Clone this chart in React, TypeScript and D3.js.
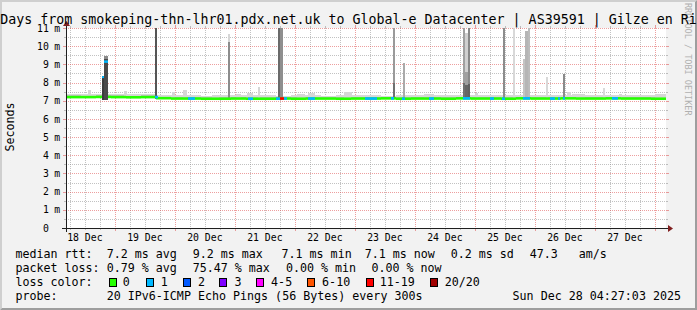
import React from 'react';
import * as d3 from 'd3';

const WIDTH = 697;
const HEIGHT = 310;

const END_TIME = '2025-12-28T04:27:03';
const RANGE_DAYS = 10;
const BUCKET_HOURS = 6;

const titleText = '10 Days from smokeping-thn-lhr01.pdx.net.uk to Global-e Datacenter | AS39591 | Gilze en Rijen';
const yAxisTitle = 'Seconds';
const sideText = 'RRDTOOL / TOBI OETIKER';

const yTickValues = [0, 1, 2, 3, 4, 5, 6, 7, 8, 9, 10, 11];
const yTickUnits = ['', 'm', 'm', 'm', 'm', 'm', 'm', 'm', 'm', 'm', 'm', 'm'];
const dayLabelDates = ['2025-12-18T12:00', '2025-12-19T12:00', '2025-12-20T12:00', '2025-12-21T12:00', '2025-12-22T12:00', '2025-12-23T12:00', '2025-12-24T12:00', '2025-12-25T12:00', '2025-12-26T12:00', '2025-12-27T12:00'];
const dayLabels = ['18 Dec', '19 Dec', '20 Dec', '21 Dec', '22 Dec', '23 Dec', '24 Dec', '25 Dec', '26 Dec', '27 Dec'];

// median rtt (ms) per 6-hour bucket from the graph start
const medianMs = [7.2, 7.2, 7.21, 7.2, 7.19, 7.2, 7.14, 7.12, 7.12, 7.11,
  7.11, 7.12, 7.11, 7.11, 7.12, 7.11, 7.12, 7.12, 7.11, 7.12,
  7.12, 7.13, 7.11, 7.12, 7.12, 7.11, 7.13, 7.12, 7.12, 7.11,
  7.13, 7.12, 7.12, 7.13, 7.12, 7.12, 7.13, 7.12, 7.12, 7.11];
// outer smoke top (ms) per bucket
const smokeOuterMs = [7.37, 7.35, 7.37, 7.38, 7.36, 7.37, 7.32, 7.31, 7.29, 7.28,
  7.29, 7.31, 7.32, 7.31, 7.28, 7.29, 7.29, 7.28, 7.3, 7.31,
  7.29, 7.28, 7.3, 7.31, 7.29, 7.3, 7.31, 7.32, 7.3, 7.29,
  7.31, 7.3, 7.31, 7.32, 7.3, 7.31, 7.3, 7.29, 7.3, 7.29];
// inner smoke top (ms) per bucket
const smokeInnerMs = [7.29, 7.28, 7.29, 7.3, 7.28, 7.29, 7.23, 7.21, 7.21, 7.2,
  7.21, 7.22, 7.21, 7.21, 7.2, 7.21, 7.21, 7.2, 7.21, 7.22,
  7.21, 7.21, 7.21, 7.22, 7.21, 7.21, 7.22, 7.22, 7.21, 7.21,
  7.22, 7.21, 7.22, 7.22, 7.21, 7.22, 7.21, 7.21, 7.21, 7.2];

// narrow light smoke bumps: [time, hours, top ms]
const smokeBumps: [string, number, number][] = [
  ['2025-12-18T13:15', 1.1, 7.59],
  ['2025-12-19T03:39', 1.1, 7.54],
  ['2025-12-19T22:51', 1.2, 7.5],
  ['2025-12-20T03:15', 1.5, 7.59],
  ['2025-12-20T15:00', 2.5, 7.34],
  ['2025-12-21T00:30', 2.0, 7.37],
  ['2025-12-21T04:51', 2.4, 7.43],
  ['2025-12-21T09:08', 0.9, 7.74],
  ['2025-12-22T01:00', 3.0, 7.37],
  ['2025-12-22T05:15', 2.8, 7.4],
  ['2025-12-22T19:40', 3.2, 7.48],
  ['2025-12-24T03:39', 4.0, 7.38],
  ['2025-12-25T00:00', 1.3, 7.45],
  ['2025-12-26T12:51', 1.8, 7.5],
  ['2025-12-26T15:00', 5.0, 7.35],
  ['2025-12-27T09:32', 1.3, 7.38],
  ['2025-12-28T00:00', 5.0, 7.35],
];

// smoke spikes (median stays at base): [time, hours, top ms, shade]
const spikes: [string, number, number, string][] = [
  ['2025-12-19T16:00', 1.0, 11.5, '#555555'],
  ['2025-12-20T21:15', 0.8, 10.65, '#d6d6d6'],
  ['2025-12-20T21:15', 0.8, 10.25, '#8c8c8c'],
  ['2025-12-21T17:15', 0.8, 11.5, '#6a6a6a'],
  ['2025-12-21T18:03', 1.4, 11.5, '#8f8f8f'],
  ['2025-12-23T15:05', 0.9, 11.5, '#9a9a9a'],
  ['2025-12-23T15:05', 0.9, 7.96, '#707070'],
  ['2025-12-23T19:05', 1.0, 9.06, '#aaaaaa'],
  ['2025-12-24T19:15', 0.8, 11.5, '#a0a0a0'],
  ['2025-12-24T19:15', 0.8, 8.0, '#707070'],
  ['2025-12-24T20:03', 1.1, 10.7, '#d0d0d0'],
  ['2025-12-24T20:03', 1.1, 8.6, '#a0a0a0'],
  ['2025-12-24T20:03', 1.1, 7.87, '#666666'],
  ['2025-12-24T21:08', 0.9, 11.5, '#888888'],
  ['2025-12-24T21:08', 0.9, 7.9, '#606060'],
  ['2025-12-25T11:05', 0.9, 11.5, '#8c8c8c'],
  ['2025-12-25T15:05', 0.9, 11.5, '#d8d8d8'],
  ['2025-12-25T19:05', 1.0, 9.3, '#c4c4c4'],
  ['2025-12-25T20:10', 1.1, 10.84, '#b5b5b5'],
  ['2025-12-25T21:15', 0.8, 11.5, '#bbbbbb'],
  ['2025-12-26T04:27', 0.8, 8.32, '#d8d8d8'],
  ['2025-12-26T11:05', 0.8, 8.47, '#8a8a8a'],
  ['2025-12-27T03:05', 0.8, 7.72, '#dadada'],
];

// samples whose median rose: [time, hours, top ms, shade, median ms, loss index]
const elevatedSamples: [string, number, number, string, number, number][] = [
  ['2025-12-18T18:44', 0.8, 8.38, '#3c3c3c', 8.3, 1],
  ['2025-12-18T19:39', 1.5, 9.45, '#8a8a8a', 9.15, 1],
  ['2025-12-18T19:39', 1.5, 9.32, '#4a4a4a', 9.15, 1],
];

// periods with packet loss: [from, to, loss index]
const lossSpans: [string, string, number][] = [
  ['2025-12-19T16:03', '2025-12-19T17:08', 1],
  ['2025-12-20T05:15', '2025-12-20T08:03', 1],
  ['2025-12-21T05:15', '2025-12-21T07:15', 1],
  ['2025-12-21T16:27', '2025-12-21T18:03', 1],
  ['2025-12-21T18:03', '2025-12-21T19:39', 6],
  ['2025-12-21T19:39', '2025-12-21T20:51', 1],
  ['2025-12-22T05:15', '2025-12-22T08:03', 1],
  ['2025-12-23T04:03', '2025-12-23T08:51', 1],
  ['2025-12-23T14:27', '2025-12-23T15:39', 1],
  ['2025-12-23T18:51', '2025-12-23T20:03', 1],
  ['2025-12-24T05:32', '2025-12-24T07:32', 1],
  ['2025-12-24T19:15', '2025-12-24T22:03', 1],
  ['2025-12-25T06:03', '2025-12-25T07:32', 1],
  ['2025-12-25T10:51', '2025-12-25T12:03', 1],
  ['2025-12-25T19:15', '2025-12-25T22:03', 1],
  ['2025-12-26T06:03', '2025-12-26T08:03', 1],
  ['2025-12-26T09:08', '2025-12-26T10:10', 1],
  ['2025-12-26T11:08', '2025-12-26T12:03', 1],
  ['2025-12-27T06:51', '2025-12-27T09:15', 1],
];

const lossLegend = ['0', '1', '2', '3', '4-5', '6-10', '11-19', '20/20'];
const lossColors = ['#26ff00', '#00b8ff', '#0059ff', '#7e00ff', '#ff00ff', '#ff5500', '#ff0000', '#a00000'];

const rttStats = ['median rtt:', '7.2 ms avg', '9.2 ms max', '7.1 ms min', '7.1 ms now', '0.2 ms sd', '47.3   am/s'];
const lossStats = ['packet loss:', '0.79 % avg', '75.47 % max', '0.00 % min', '0.00 % now'];
const lossColorLabel = 'loss color:';
const probeStats = ['probe:', '20 IPv6-ICMP Echo Pings (56 Bytes) every 300s'];
const stampText = 'Sun Dec 28 04:27:03 2025';

// ---------- layout ----------
const X0 = 66;
const X1 = 666;
const Y0 = 228;
const Y1 = 28;
const MEDIAN_BAND = 2.6;
const MONO = '"DejaVu Sans Mono", "Liberation Mono", monospace';
const rttX = [15.4, 106.7, 192.7, 281.5, 364.7, 450.7, 529.7];
const lossX = [15.4, 106.7, 192.7, 285.9, 371.4];
const boxX = [108.5, 145.8, 182.5, 219.2, 255.9, 307.2, 365.9, 430.2];
const boxLabelX = [122.7, 160.7, 198.1, 234.4, 271.1, 322.1, 379.7, 444.7];
const rowY = [257.5, 271.6, 285.7, 299.8];

const HOUR = 3600 * 1000;
const endDate = new Date(END_TIME);
const startDate = new Date(endDate.getTime() - RANGE_DAYS * 24 * HOUR);

export default function App() {
  const x = d3.scaleTime().domain([startDate, endDate]).range([X0, X1]);
  const y = d3.scaleLinear().domain([0, 11]).range([Y0, Y1]);
  const px = (d: Date) => Math.round(x(d));
  const addH = (s: string, h: number) => new Date(new Date(s).getTime() + h * HOUR);
  const bucketIndex = (d: Date) =>
    Math.max(0, Math.min(medianMs.length - 1, Math.floor((d.getTime() - startDate.getTime()) / (BUCKET_HOURS * HOUR))));
  const bucketStart = (i: number) => new Date(startDate.getTime() + i * BUCKET_HOURS * HOUR);

  const minorH = d3.range(0.5, 11, 1);
  const majorH = yTickValues;
  const majorV = d3.timeDay.range(startDate, endDate).filter((d) => d > startDate);
  const minorV = d3.timeHour.every(6)!.range(startDate, endDate).filter((d) => d.getHours() !== 0);

  const minorCol = 'rgba(143,143,143,0.55)';
  const majorCol = 'rgba(222,80,80,0.55)';

  return (
    <svg width={WIDTH} height={HEIGHT} style={{ position: 'absolute', left: 0, top: 0, display: 'block' }} fontFamily={MONO}>
      <defs>
        <clipPath id="cv">
          <rect x={X0} y={Y1} width={X1 - X0} height={Y0 - Y1} />
        </clipPath>
      </defs>
      <rect x={0} y={0} width={WIDTH} height={HEIGHT} fill="#f2f2f2" />
      <polygon points={`0,${HEIGHT} 2,${HEIGHT - 2} 2,2 ${WIDTH - 2},2 ${WIDTH},0 0,0`} fill="#cfcfcf" />
      <polygon points={`2,${HEIGHT - 2} ${WIDTH - 2},${HEIGHT - 2} ${WIDTH - 2},2 ${WIDTH},0 ${WIDTH},${HEIGHT} 0,${HEIGHT}`} fill="#9e9e9e" />
      <rect x={X0} y={Y1} width={X1 - X0} height={Y0 - Y1} fill="#ffffff" />

      {/* grid */}
      <g shapeRendering="crispEdges" strokeWidth={1}>
        {minorH.map((v) => (
          <g key={'mh' + v} stroke={minorCol}>
            <line x1={X0} x2={X1} y1={Math.round(y(v)) + 0.5} y2={Math.round(y(v)) + 0.5} strokeDasharray="1 1" />
            <line x1={X0 - 2} x2={X0} y1={Math.round(y(v)) + 0.5} y2={Math.round(y(v)) + 0.5} />
            <line x1={X1} x2={X1 + 2} y1={Math.round(y(v)) + 0.5} y2={Math.round(y(v)) + 0.5} />
          </g>
        ))}
        {minorV.map((d, i) => (
          <g key={'mv' + i} stroke={minorCol}>
            <line x1={px(d) + 0.5} x2={px(d) + 0.5} y1={Y1} y2={Y0} strokeDasharray="1 1" />
            <line x1={px(d) + 0.5} x2={px(d) + 0.5} y1={Y1 - 2} y2={Y1} />
            <line x1={px(d) + 0.5} x2={px(d) + 0.5} y1={Y0} y2={Y0 + 2} />
          </g>
        ))}
        {majorH.map((v) => (
          <g key={'Mh' + v} stroke={majorCol}>
            <line x1={X0} x2={X1} y1={Math.round(y(v)) + 0.5} y2={Math.round(y(v)) + 0.5} strokeDasharray="1 1" />
            <line x1={X0 - 3} x2={X0} y1={Math.round(y(v)) + 0.5} y2={Math.round(y(v)) + 0.5} />
            <line x1={X1} x2={X1 + 3} y1={Math.round(y(v)) + 0.5} y2={Math.round(y(v)) + 0.5} />
          </g>
        ))}
        {majorV.map((d, i) => (
          <g key={'Mv' + i} stroke={majorCol}>
            <line x1={px(d) + 0.5} x2={px(d) + 0.5} y1={Y1} y2={Y0} strokeDasharray="1 1" />
            <line x1={px(d) + 0.5} x2={px(d) + 0.5} y1={Y1 - 3} y2={Y1} />
            <line x1={px(d) + 0.5} x2={px(d) + 0.5} y1={Y0} y2={Y0 + 3} />
          </g>
        ))}
      </g>

      <g clipPath="url(#cv)">
        {/* base smoke */}
        <g shapeRendering="crispEdges">
          {medianMs.map((m, i) => {
            const a = px(bucketStart(i));
            const b = px(bucketStart(i + 1));
            return (
              <g key={'sm' + i}>
                <rect x={a} width={b - a} y={y(smokeOuterMs[i])} height={y(m) - y(smokeOuterMs[i])} fill="#d8d8d8" />
                <rect x={a} width={b - a} y={y(smokeInnerMs[i])} height={y(m) - y(smokeInnerMs[i])} fill="#c2c2c2" />
              </g>
            );
          })}
          {smokeBumps.map(([t, h, top], i) => {
            const a = px(new Date(t));
            const b = px(addH(t, h));
            const m = medianMs[bucketIndex(new Date(t))];
            return <rect key={'bp' + i} x={a} width={Math.max(1, b - a)} y={y(top)} height={y(m) - y(top)} fill="#d6d6d6" />;
          })}
          {spikes.map(([t, h, top, shade], i) => {
            const a = px(new Date(t));
            const b = px(addH(t, h));
            return <rect key={'sp' + i} x={a} width={Math.max(1, b - a)} y={y(top)} height={y(7.08) - y(top)} fill={shade} />;
          })}
        </g>

        {/* median, coloured by loss */}
        {medianMs.map((m, i) => {
          const a = px(bucketStart(i));
          const b = px(bucketStart(i + 1));
          return <rect key={'md' + i} x={a} width={b - a} y={y(m) - MEDIAN_BAND / 2} height={MEDIAN_BAND} fill={lossColors[0]} />;
        })}
        {lossSpans.map(([f, t, l], i) => {
          const a = px(new Date(f));
          const b = px(new Date(t));
          const m = medianMs[bucketIndex(new Date(f))];
          return <rect key={'ls' + i} x={a} width={Math.max(1, b - a)} y={y(m) - MEDIAN_BAND / 2} height={MEDIAN_BAND} fill={lossColors[l]} />;
        })}
        {elevatedSamples.map(([t, h, top, shade], i) => {
          const a = px(new Date(t));
          const b = px(addH(t, h));
          return <rect key={'el' + i} x={a} width={Math.max(1, b - a)} y={y(top)} height={y(7.05) - y(top)} fill={shade} shapeRendering="crispEdges" />;
        })}
        {elevatedSamples.map(([t, h, , , med, l], i) => {
          const a = px(new Date(t));
          const b = px(addH(t, h));
          return <rect key={'em' + i} x={a} width={Math.max(1, b - a)} y={y(med) - 1} height={2} fill={lossColors[l]} />;
        })}
      </g>

      {/* axes */}
      <g shapeRendering="crispEdges" stroke="#1f1f1f" strokeWidth={1}>
        <line x1={X0 - 4} x2={X1 + 4} y1={Y0 + 0.5} y2={Y0 + 0.5} />
        <line x1={X0 + 0.5} x2={X0 + 0.5} y1={Y0 + 4} y2={Y1 - 4} />
      </g>
      <polygon points={`${X1 + 2},${Y0 - 3} ${X1 + 2},${Y0 + 4} ${X1 + 7},${Y0 + 0.5}`} fill="#801f1f" />
      <polygon points={`${X0 - 3},${Y1 - 2} ${X0 + 4},${Y1 - 2} ${X0 + 0.5},${Y1 - 7}`} fill="#801f1f" />

      {/* y tick labels */}
      <g fontSize={9.8} fill="#000">
        {yTickValues.map((v, i) => (
          <g key={'yl' + v}>
            <text x={48.8} y={y(v) + 3.6} textAnchor="end">{String(v)}</text>
            {yTickUnits[i] && <text x={60.2} y={y(v) + 3.6} textAnchor="end">{yTickUnits[i]}</text>}
          </g>
        ))}
        {dayLabelDates.map((d, i) => (
          <text key={'xl' + i} x={x(new Date(d))} y={241} textAnchor="middle">{dayLabels[i]}</text>
        ))}
      </g>

      {/* side texts */}
      <text transform="translate(685.3,3) rotate(90)" fontSize={8.5} fill="#b0b0b0">{sideText}</text>
      <text transform="translate(14.2,127) rotate(-90)" fontSize={11.67} textAnchor="middle" fill="#000">{yAxisTitle}</text>

      {/* title */}
      <text x={348.5} y={23.5} fontSize={13.3} textAnchor="middle" fill="#000" style={{ whiteSpace: 'pre' }}>{titleText}</text>

      {/* legend */}
      <g fontSize={11.67} fill="#000" style={{ whiteSpace: 'pre' }}>
        {rttStats.map((s, i) => (
          <text key={'r' + i} x={rttX[i]} y={rowY[0]} xmlSpace="preserve">{s}</text>
        ))}
        {lossStats.map((s, i) => (
          <text key={'l' + i} x={lossX[i]} y={rowY[1]} xmlSpace="preserve">{s}</text>
        ))}
        <text x={rttX[0]} y={rowY[2]}>{lossColorLabel}</text>
        {lossLegend.map((s, i) => (
          <g key={'lc' + i}>
            <rect x={boxX[i] + 0.5} y={rowY[2] - 7.5} width={7} height={8} fill={lossColors[i]} stroke="#000" strokeWidth={1} shapeRendering="crispEdges" />
            <text x={boxLabelX[i]} y={rowY[2]}>{s}</text>
          </g>
        ))}
        <text x={rttX[0]} y={rowY[3]}>{probeStats[0]}</text>
        <text x={rttX[1]} y={rowY[3]}>{probeStats[1]}</text>
        <text x={681} y={rowY[3]} textAnchor="end">{stampText}</text>
      </g>
    </svg>
  );
}
